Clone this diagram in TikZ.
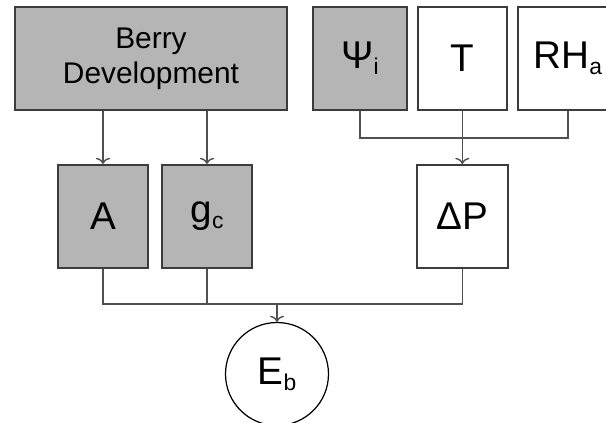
\documentclass[tikz,border=0pt]{standalone}
\usepackage{fontspec}
\setmainfont{Liberation Sans}
\usepackage{tikz}
\usetikzlibrary{positioning,shapes,arrows.meta,calc}
\definecolor{boxgray}{RGB}{181,181,181}
\definecolor{edgegray}{RGB}{60,60,60}
\definecolor{wiregray}{RGB}{80,80,80}
\newcommand{\lowidx}[1]{\raisebox{-3.5pt}{\fontsize{13}{13}\selectfont #1}}

\begin{document}
\begin{tikzpicture}
     \tikzset{factor/.style={draw=edgegray, line width=1.1pt, fill=boxgray, inner sep=0pt,
              minimum height=2.06cm, minimum width=1.8cm, font=\fontsize{22}{24}\selectfont}}
     \tikzset{input/.style={factor, fill=white}}
     \tikzset{outcome/.style={draw, circle, line width=0.7pt, inner sep=0pt,
              minimum size=2.06cm, font=\fontsize{22}{24}\selectfont}}
     \tikzset{line/.style={draw=wiregray, line width=0.8pt}}
     \tikzset{feed/.style={line, -{To[length=3.5pt,width=8pt]}}}
     \useasboundingbox (0,0) rectangle (12.12,-8.46);
     \clip (0,0) rectangle (12.12,-8.46);
     \node [factor, minimum width=5.44cm, align=center, font=\fontsize{17}{20}\selectfont] (berry) at (3.02,-1.17) {Berry\\Development};
     \node [factor, right=0.48cm of berry, minimum width=1.88cm] (psi) {Ψ\lowidx{i}};
     \node [input, right=0.18cm of psi, minimum width=1.78cm] (temp) {T};
     \node [input, right=0.18cm of temp, minimum width=2.0cm] (rh) {RH\lowidx{a}};

     \node [factor, below=1.06cm of berry, xshift=-0.96cm] (area) {A};
     \node [factor, below=1.06cm of berry, xshift=1.12cm] (gc) {g\lowidx{c}};
     \node [input, below=1.06cm of temp, minimum width=1.82cm] (dp) {ΔP};

     \node [outcome, below=1.06cm of area, xshift=3.48cm] (eb) {E\lowidx{b}};

     \path [feed] (berry.south -| area.north) -- (area.north);
     \path [feed] (berry.south -| gc.north) -- (gc.north);

     \path [line] (psi.south) -- +(0,-0.54cm) -| (rh.south);
     \path [feed] (temp.south) -- (dp.north);

     \coordinate [below=0.7cm of area.south] (bus);
     \path [line] (area.south) -- (bus) -| (dp.south);
     \path [line] (gc.south) -- (gc.south |- bus);
     \path [feed] (bus -| eb.north) -- (eb.north);
\end{tikzpicture}
\end{document}
